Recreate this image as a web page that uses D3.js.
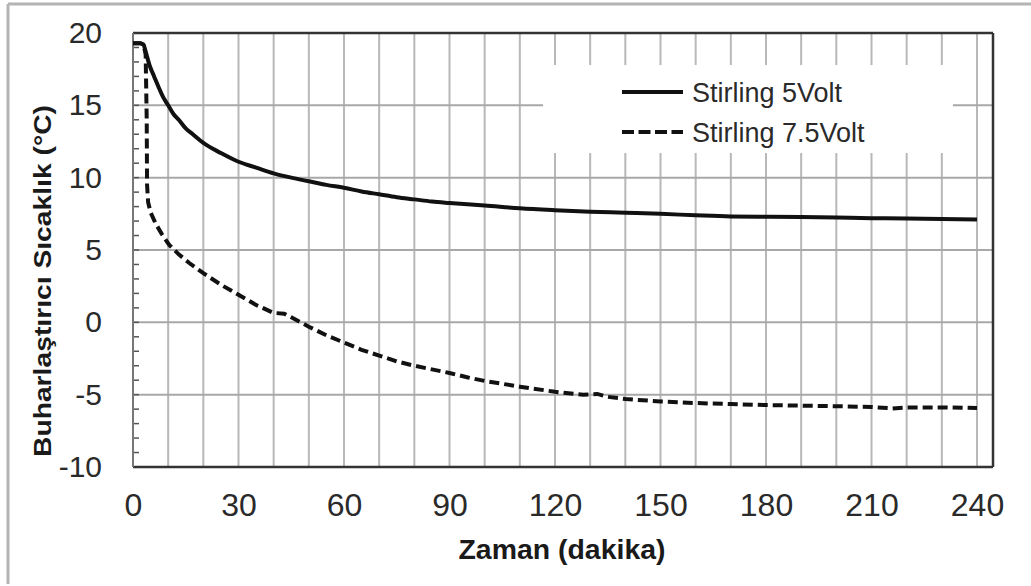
<!DOCTYPE html>
<html><head><meta charset="utf-8">
<script src="https://cdn.jsdelivr.net/npm/d3@7"></script>
<style>
html,body{margin:0;padding:0;background:#fff;}
text{font-family:"Liberation Sans",Arial,sans-serif;}
</style></head>
<body><svg id="c" width="1031" height="586"></svg>
<script>
// ---- data ----
const xTicks = [0,30,60,90,120,150,180,210,240];
const yTicks = [-10,-5,0,5,10,15,20];
const seriesNames = ["Stirling 5Volt","Stirling 7.5Volt"];
const xTitle = "Zaman (dakika)";
const yTitle = "Buharlaştırıcı Sıcaklık (°C)";

const t5 = [0,1,2,3,3.5,4.8,6,7.2,8.5,10,11.5,13,15,17,20,25,30,35,40,45,50,55,60,65,70,75,80,85,90,100,110,120,130,140,150,160,170,180,190,200,210,220,230,240];
const v5 = [19.3,19.3,19.3,19.2,18.8,17.7,17.0,16.3,15.6,15.0,14.4,14.0,13.4,13.0,12.4,11.7,11.1,10.7,10.3,10.0,9.75,9.5,9.3,9.05,8.85,8.65,8.5,8.35,8.25,8.08,7.88,7.75,7.65,7.58,7.5,7.4,7.32,7.3,7.28,7.25,7.2,7.18,7.15,7.1];

const t75 = [0,1,2,3,3.6,3.9,4.0,4.3,5,6.5,8.2,10.3,13,16,20,25,30,35,40,43,45,50,55,60,65,70,75,80,85,90,95,100,110,120,128,132,135,140,150,160,170,180,190,200,210,216,220,230,240];
const v75 = [19.3,19.3,19.3,19.2,18.5,14,9.5,8.3,7.6,6.8,6.1,5.35,4.7,4.1,3.4,2.6,1.9,1.2,0.65,0.6,0.35,-0.3,-0.9,-1.4,-1.9,-2.3,-2.7,-3.0,-3.25,-3.5,-3.8,-4.05,-4.45,-4.8,-5.0,-4.95,-5.15,-5.3,-5.47,-5.58,-5.65,-5.72,-5.76,-5.8,-5.85,-5.95,-5.88,-5.88,-5.92];

// ---- layout ----
const svg = d3.select("#c");
const L = 133, T = 33, B = 467, R = 993;
const x = d3.scaleLinear().domain([0,240]).range([L,977]);
const y = d3.scaleLinear().domain([-10,20]).range([B,T]);

// outer frame (cropped: top and left only)
svg.append("line").attr("x1",8).attr("x2",1031).attr("y1",4).attr("y2",4).attr("stroke","#b4b4b4").attr("stroke-width",3);
svg.append("line").attr("x1",8).attr("x2",8).attr("y1",4).attr("y2",584).attr("stroke","#b4b4b4").attr("stroke-width",3);

// gridlines
const gx = d3.range(10,241,10);
svg.append("g").selectAll("line").data(gx).join("line")
  .attr("x1",d=>x(d)).attr("x2",d=>x(d)).attr("y1",T).attr("y2",B)
  .attr("stroke","#b8b8b8").attr("stroke-width",2);
svg.append("g").selectAll("line").data([-5,0,5,10,15]).join("line")
  .attr("x1",L).attr("x2",R).attr("y1",d=>y(d)).attr("y2",d=>y(d))
  .attr("stroke","#a8a8a8").attr("stroke-width",2);

// legend background box (covers gridlines)
svg.append("rect").attr("x",543).attr("y",65).attr("width",410).attr("height",88).attr("fill","#fff");

// minor y ticks
svg.append("g").selectAll("line").data(d3.range(-10,21,1)).join("line")
  .attr("x1",L).attr("x2",L+6).attr("y1",d=>y(d)).attr("y2",d=>y(d))
  .attr("stroke","#555").attr("stroke-width",1.5);

// plot frame
svg.append("line").attr("x1",L).attr("x2",R).attr("y1",T).attr("y2",T).attr("stroke","#333").attr("stroke-width",2.5);
svg.append("line").attr("x1",L).attr("x2",R).attr("y1",B).attr("y2",B).attr("stroke","#333").attr("stroke-width",2.5);
svg.append("line").attr("x1",R).attr("x2",R).attr("y1",T).attr("y2",B).attr("stroke","#333").attr("stroke-width",2.5);
svg.append("line").attr("x1",L).attr("x2",L).attr("y1",T).attr("y2",B).attr("stroke","#777").attr("stroke-width",2);

// axes labels via d3 axes
const fmt = d => String(d);
const ax = svg.append("g").attr("transform",`translate(0,${B})`)
  .call(d3.axisBottom(x).tickValues(xTicks).tickSize(0).tickPadding(26).tickFormat(fmt));
ax.select(".domain").remove();
ax.selectAll("text").attr("font-size",32).attr("fill","#2a2a2a").attr("font-family","Liberation Sans, Arial, sans-serif");

const ay = svg.append("g").attr("transform",`translate(${L},0)`)
  .call(d3.axisLeft(y).tickValues(yTicks).tickSize(0).tickPadding(31).tickFormat(fmt));
ay.select(".domain").remove();
ay.selectAll("text").attr("font-size",30).attr("fill","#2a2a2a").attr("font-family","Liberation Sans, Arial, sans-serif");

// titles
svg.append("text").attr("x",562).attr("y",559).attr("text-anchor","middle")
  .attr("font-size",27).attr("font-weight","bold").attr("fill","#1a1a1a")
  .attr("textLength",207).attr("lengthAdjust","spacingAndGlyphs").text(xTitle);
svg.append("text").attr("transform","translate(51,281) rotate(-90)").attr("text-anchor","middle")
  .attr("font-size",24).attr("font-weight","bold").attr("fill","#1a1a1a")
  .attr("textLength",352).attr("lengthAdjust","spacingAndGlyphs").text(yTitle);

// lines
const line = d3.line().x(d=>x(d[0])).y(d=>y(d[1])).curve(d3.curveMonotoneX);
svg.append("path").datum(d3.zip(t5,v5)).attr("d",line)
  .attr("fill","none").attr("stroke","#111").attr("stroke-width",4);
svg.append("path").datum(d3.zip(t75,v75)).attr("d",d3.line().x(d=>x(d[0])).y(d=>y(d[1])).curve(d3.curveLinear))
  .attr("fill","none").attr("stroke","#111").attr("stroke-width",4).attr("stroke-dasharray","10,5");

// legend
const lg = svg.append("g");
const styles = [null,"12,4.5"];
seriesNames.forEach((n,i)=>{
  const yy = 92 + i*40;
  lg.append("line").attr("x1",622).attr("x2",683).attr("y1",yy).attr("y2",yy)
    .attr("stroke","#111").attr("stroke-width",4).attr("stroke-dasharray",styles[i]);
  lg.append("text").attr("x",692).attr("y",yy+10).attr("font-size",27).attr("fill","#2a2a2a").text(n);
});
</script></body></html>
